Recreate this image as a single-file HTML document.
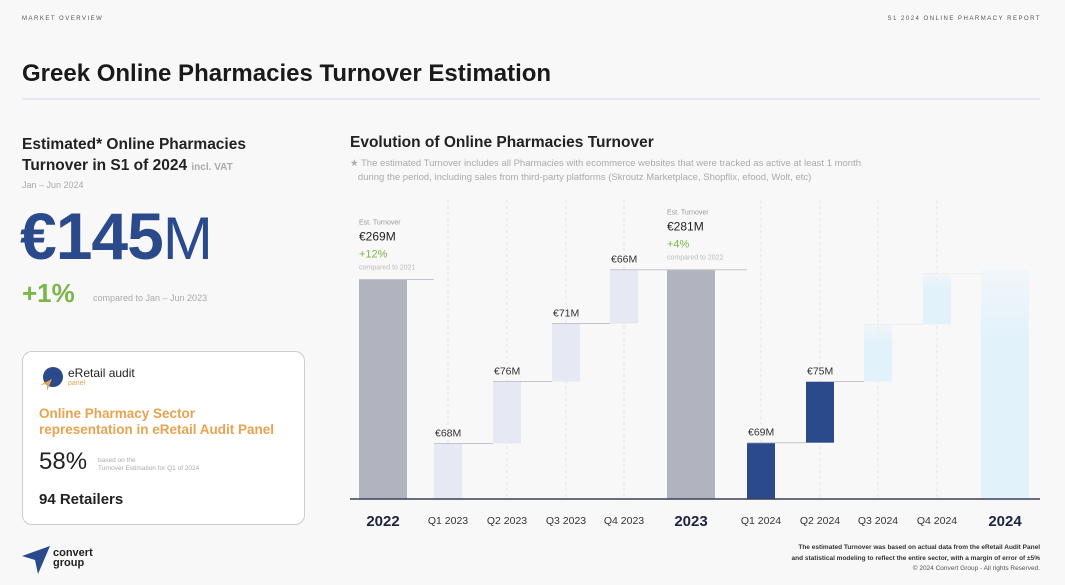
<!DOCTYPE html>
<html><head><meta charset="utf-8">
<style>
*{margin:0;padding:0;box-sizing:border-box}
body{width:1065px;height:585px;background:#f8f8f9;font-family:"Liberation Sans",sans-serif;position:relative;overflow:hidden;color:#222}
.a{position:absolute;white-space:nowrap}
</style></head><body>
<div class="a" style="left:22px;top:16px;font-size:6px;letter-spacing:1.5px;color:#555">MARKET OVERVIEW</div>
<div class="a" style="right:24px;top:16px;font-size:6px;letter-spacing:1.5px;color:#555">S1 2024 ONLINE PHARMACY REPORT</div>
<div class="a" style="left:22px;top:60px;font-size:24px;font-weight:bold;color:#1a1a1a">Greek Online Pharmacies Turnover Estimation</div>
<div class="a" style="left:22px;top:98px;width:1018px;height:2px;background:#e6e8f2"></div>

<div class="a" style="left:22px;top:134px;font-size:15.5px;font-weight:bold;line-height:21px;color:#222">Estimated* Online Pharmacies<br>Turnover in S1 of 2024 <span style="font-size:10px;color:#aaa">incl. VAT</span></div>
<div class="a" style="left:22px;top:180px;font-size:9px;color:#aaa">Jan – Jun 2024</div>
<div class="a" style="left:20px;top:198px;font-size:66px;line-height:76px;color:#2b4a8c;font-weight:bold;letter-spacing:-1px">€145<span style="font-weight:normal;font-size:60px">M</span></div>
<div class="a" style="left:22px;top:278px;font-size:26px;font-weight:bold;color:#7ab648">+1%</div>
<div class="a" style="left:93px;top:293px;font-size:9px;color:#aaa">compared to Jan – Jun 2023</div>

<div class="a" style="left:22px;top:351px;width:283px;height:174px;border:1px solid #ccc;border-radius:10px;background:#fff"></div>
<svg class="a" style="left:38px;top:366px" width="26" height="26" viewBox="0 0 26 26"><circle cx="15" cy="11" r="10" fill="#2b4a8c"/><path d="M2 19 L14 13 L9 25 L9 18Z" fill="#e8a34f"/></svg>
<div class="a" style="left:68px;top:366px;font-size:12px;color:#222">eRetail audit</div>
<div class="a" style="left:68px;top:380px;font-size:7px;color:#e8a34f">panel</div>
<div class="a" style="left:39px;top:406px;font-size:13.5px;font-weight:bold;line-height:16px;color:#e8a34f">Online Pharmacy Sector<br>representation in eRetail Audit Panel</div>
<div class="a" style="left:39px;top:448px;font-size:24px;color:#222">58%</div>
<div class="a" style="left:98px;top:457px;font-size:6.5px;line-height:8px;color:#aaa">based on the<br>Turnover Estimation for Q1 of 2024</div>
<div class="a" style="left:39px;top:491px;font-size:15px;font-weight:bold;color:#222">94 Retailers</div>

<svg class="a" style="left:22px;top:546px" width="28" height="30" viewBox="0 0 28 30"><path d="M0 10 L28 0 L16 28 L13 14Z" fill="#2b4a8c"/></svg>
<div class="a" style="left:53px;top:548px;font-size:11px;font-weight:bold;line-height:10px;color:#222">convert<br>group</div>

<div class="a" style="left:350px;top:134px;font-size:15.5px;font-weight:bold;color:#222">Evolution of Online Pharmacies Turnover</div>
<div class="a" style="left:350px;top:157px;font-size:9.5px;line-height:14px;color:#aaa">★ The estimated Turnover includes all Pharmacies with ecommerce websites that were tracked as active at least 1 month<br>&nbsp;&nbsp;&nbsp;during the period, including sales from third-party platforms (Skroutz Marketplace, Shopflix, efood, Wolt, etc)</div>

<svg class="a" id="chart" style="left:0;top:0" width="1065" height="585"></svg>

<div class="a" style="right:25px;top:543px;font-size:6.5px;line-height:10.5px;text-align:right;font-weight:bold;color:#333">The estimated Turnover was based on actual data from the eRetail Audit Panel<br>and statistical modeling to reflect the entire sector, with a margin of error of ±5%<br><span style="font-weight:normal;color:#555">© 2024 Convert Group - All rights Reserved.</span></div>

<script>
const categories=["2022","Q1 2023","Q2 2023","Q3 2023","Q4 2023","2023","Q1 2024","Q2 2024","Q3 2024","Q4 2024","2024"];
const values=[269,68,76,71,66,281,69,75,70,62,281];
const kinds=["total","q23","q23","q23","q23","total","q24","q24","ghost","ghost","ghostTotal"];
const valueLabels=["","€68M","€76M","€71M","€66M","","€69M","€75M","","",""];
const totalNotes=[{i:0,val:"€269M",chg:"+12%",cmp:"compared to 2021"},{i:5,val:"€281M",chg:"+4%",cmp:"compared to 2022"}];
const svg=document.getElementById('chart');const NS="http://www.w3.org/2000/svg";
const base=499,scale=0.816;
const y=v=>base-v*scale;
const xc=i=>{const c=[383,448,507,566,624,691,761,820,878,937,1005];return c[i];};
function mk(t,a){const e=document.createElementNS(NS,t);for(const k in a)e.setAttribute(k,a[k]);svg.appendChild(e);return e;}
const defs=mk('defs',{});
defs.innerHTML='<linearGradient id="gh" x1="0" y1="0" x2="0" y2="1"><stop offset="0" stop-color="#e2f2fb" stop-opacity="0.3"/><stop offset="0.3" stop-color="#e2f2fb"/><stop offset="1" stop-color="#e2f2fb"/></linearGradient>';
for(let i=0;i<categories.length;i++){if(kinds[i]==="total"||kinds[i]==="ghostTotal")continue;
 const g=mk('line',{x1:xc(i),x2:xc(i),y1:200,y2:base,stroke:'#e4e4e8','stroke-dasharray':'3,3','stroke-width':1});
 }
let run=0;
for(let i=0;i<categories.length;i++){
 const k=kinds[i];let lo,hi,w,fill;
 if(k==="total"||k==="ghostTotal"){lo=0;hi=values[i];run=values[i];w=48;}
 else{lo=run;hi=run+values[i];run=hi;w=28;if(i===6||i===1){lo=0;hi=values[i];run=hi;}}
 fill=k==="total"?"#b1b3bf":k==="q23"?"#e6e8f4":k==="q24"?"#2b4a8c":"url(#gh)";
 const r=mk('rect',{x:xc(i)-w/2,y:y(hi),width:w,height:y(lo)-y(hi),fill:fill});
 
 
 if(i<categories.length-1){const nx=xc(i+1)-(kinds[i+1].includes("otal")?24:14);
  const l=mk('line',{x1:xc(i)-w/2,x2:nx,y1:y(hi),y2:y(hi),stroke:k.startsWith('ghost')?'#eeeeee':'#c3c4cc','stroke-width':1});
  }
 if(valueLabels[i]){const t=mk('text',{x:xc(i)-13,y:y(hi)-7,'font-size':10.5,fill:'#333'});t.textContent=valueLabels[i];
  }
 const big=k==="total"||k==="ghostTotal";
 const t=mk('text',{x:xc(i),y:big?526:524,'text-anchor':'middle','font-size':big?15:10.5,'font-weight':big?'bold':'normal',fill:big?'#1c2440':'#333'});
 t.textContent=categories[i];
}
const ax=mk('line',{x1:350,x2:1040,y1:base,y2:base,stroke:'#3a3f55','stroke-width':1.5});

totalNotes.forEach(n=>{const x0=xc(n.i)-24,top=y(values[n.i]);
 const a=mk('text',{x:x0,y:top-55,'font-size':7,fill:'#999'});a.textContent="Est. Turnover";
 const b=mk('text',{x:x0,y:top-39,'font-size':12,fill:'#222'});b.textContent=n.val;
 const c=mk('text',{x:x0,y:top-22,'font-size':11,fill:'#7ab648'});c.textContent=n.chg;
 const d=mk('text',{x:x0,y:top-10,'font-size':7,fill:'#bbb'});d.textContent=n.cmp;
});
</script>
</body></html>
